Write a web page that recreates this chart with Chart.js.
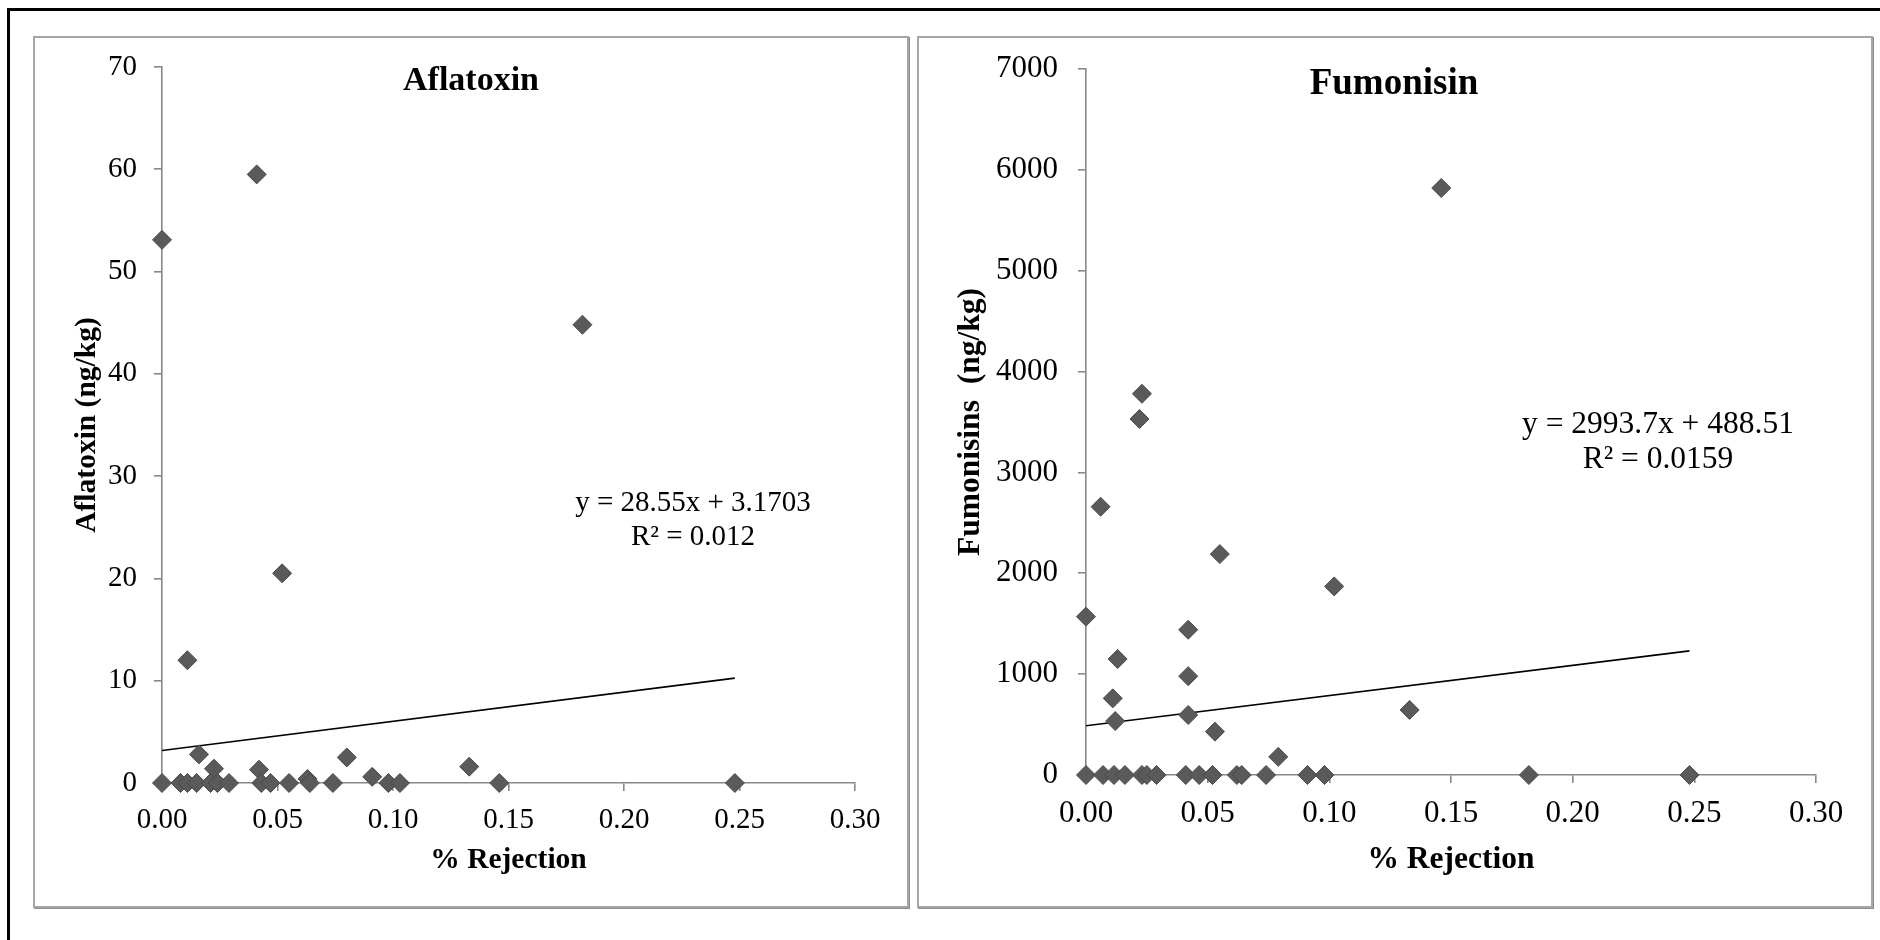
<!DOCTYPE html>
<html lang="en">
<head>
   <meta charset="UTF-8">
   <title>Aflatoxin and Fumonisin vs % Rejection</title>
   <script src="https://cdn.jsdelivr.net/npm/chart.js"></script>
   <style>
      body {
         margin: 0;
         width: 1880px;
         height: 940px;
         background: #fff;
         overflow: hidden;
         position: relative;
         font-family: "Liberation Serif", "Times New Roman", serif;
      }
      .frame {
         position: absolute;
         left: 7px;
         top: 8px;
         width: 1900px;
         height: 960px;
         border: 3px solid #000;
      }
      .panel {
         position: absolute;
         top: 36px;
         height: 872px;
         background: #fff;
         outline: 2px solid #a6a6a6;
         outline-offset: -2px;
         box-shadow: 1px 1px 0 #8c8c8c;
      }
      .panel canvas { position: absolute; left: 0; top: 0; }
      .txt {
         position: absolute;
         transform: translate(-50%, -50%);
         white-space: nowrap;
         color: #000;
         text-align: center;
      }
      .title { font-weight: bold; }
   </style>
</head>
<body>
   <div class="frame"></div>

   <div class="panel" style="left:33px;width:876px">
      <canvas id="aflaChart" width="876" height="872"></canvas>
   </div>
   <div class="panel" style="left:917px;width:956px">
      <canvas id="fumoChart" width="956" height="872"></canvas>
   </div>

   <!-- chart titles and trendline equations -->
   <div class="txt title" style="left:471px;top:79px;font-size:34px">Aflatoxin</div>
   <div class="txt" style="left:693px;top:518px;font-size:29px;line-height:34px">y = 28.55x + 3.1703<br>R² = 0.012</div>

   <div class="txt title" style="left:1394px;top:81px;font-size:37px">Fumonisin</div>
   <div class="txt" style="left:1658px;top:440px;font-size:31.5px;line-height:35px">y = 2993.7x + 488.51<br>R² = 0.0159</div>

   <script>
      // Aflatoxin samples (% rejection, ng/kg)
      const aflaX = [0.000, 0.041, 0.182, 0.052, 0.011, 0.016, 0.0225, 0.042, 0.080, 0.091, 0.133, 0.146, 0.063, 0.248,
                     0.000, 0.008, 0.011, 0.015, 0.021, 0.024, 0.029, 0.043, 0.047, 0.055, 0.064, 0.074, 0.098, 0.103];
      const aflaY = [53.1, 59.5, 44.8, 20.5, 12.0, 2.8, 1.4, 1.3, 2.5, 0.6, 1.6, 0, 0.4, 0,
                     0, 0, 0, 0, 0, 0, 0, 0, 0, 0, 0, 0, 0, 0];

      // Fumonisin samples (% rejection, ng/kg)
      const fumoX = [0.146, 0.023, 0.022, 0.006, 0.055, 0.102, 0.000, 0.042, 0.013, 0.042, 0.011, 0.042, 0.012, 0.053,
                     0.133, 0.079, 0.182, 0.248,
                     0.000, 0.007, 0.0115, 0.016, 0.023, 0.025, 0.029, 0.041, 0.0465, 0.052, 0.062, 0.064, 0.074, 0.091, 0.098];
      const fumoY = [5820, 3780, 3530, 2660, 2190, 1870, 1570, 1440, 1150, 980, 760, 595, 535, 430,
                     645, 180, 0, 0,
                     0, 0, 0, 0, 0, 0, 0, 0, 0, 0, 0, 0, 0, 0, 0];

      // linear trendlines as printed on the chart: [slope, intercept]
      const aflaTrend = [28.55, 3.1703];
      const fumoTrend = [2993.7, 488.51];
      const trendRange = [0, 0.248];

      const xTicks = [0, 0.05, 0.10, 0.15, 0.20, 0.25, 0.30];

      const serif = "'Liberation Serif', 'Times New Roman', serif";
      const axisGray = '#888888';

      function makeChart(id, xs, ys, trend, opts) {
         const canvas = document.getElementById(id);
         const W = canvas.width, H = canvas.height;
         const a = opts.area; // [left, top, right, bottom] of plot area inside canvas
         const points = xs.map((x, i) => ({ x: x, y: ys[i] }));
         const line = trendRange.map(x => ({ x: x, y: trend[0] * x + trend[1] }));

         return new Chart(canvas, {
            type: 'scatter',
            data: {
               datasets: [
                  {
                     data: points,
                     pointStyle: 'rectRot',
                     pointRadius: 9.5,
                     pointHoverRadius: 9.5,
                     backgroundColor: '#5a5a5a',
                     borderColor: '#4a4a4a',
                     borderWidth: 1,
                     clip: false,
                     order: 1
                  },
                  {
                     data: line,
                     showLine: true,
                     borderColor: '#000',
                     borderWidth: 1.6,
                     pointRadius: 0,
                     fill: false,
                     order: 2
                  }
               ]
            },
            options: {
               responsive: false,
               animation: false,
               devicePixelRatio: 1,
               layout: { padding: { left: 0, top: a[1], right: W - a[2], bottom: 0 } },
               plugins: { legend: { display: false }, tooltip: { enabled: false } },
               scales: {
                  x: {
                     type: 'linear',
                     min: 0, max: 0.30,
                     afterBuildTicks: s => { s.ticks = xTicks.map(v => ({ value: v })); },
                     afterFit: s => { s.height = H - a[3]; },
                     border: { display: true, color: axisGray, width: 1.6 },
                     grid: { drawOnChartArea: false, drawTicks: true, tickLength: 8, color: axisGray, lineWidth: 1.6 },
                     ticks: {
                        padding: opts.xTickPad,
                        color: '#000',
                        maxRotation: 0,
                        font: { family: serif, size: opts.tickSize },
                        callback: v => Number(v).toFixed(2)
                     },
                     title: {
                        display: true,
                        text: '% Rejection',
                        color: '#000',
                        font: { family: serif, size: opts.axisTitleSize, weight: 'bold' },
                        padding: { top: 0, bottom: opts.xTitlePad }
                     }
                  },
                  y: {
                     min: 0, max: opts.yMax,
                     ticks: {
                        stepSize: opts.yStep,
                        padding: opts.yTickPad,
                        color: '#000',
                        font: { family: serif, size: opts.tickSize },
                        callback: v => String(v)
                     },
                     // keep the plot area exactly where the panel wants it
                     afterFit: s => { s.width = a[0]; s.paddingTop = 0; s.paddingBottom = 0; },
                     border: { display: true, color: axisGray, width: 1.6 },
                     grid: { drawOnChartArea: false, drawTicks: true, tickLength: 8, color: axisGray, lineWidth: 1.6 },
                     title: {
                        display: true,
                        text: opts.yTitle,
                        color: '#000',
                        font: { family: serif, size: opts.axisTitleSize, weight: 'bold' },
                        padding: { top: opts.yTitlePad, bottom: 0 }
                     }
                  }
               }
            }
         });
      }

      makeChart('aflaChart', aflaX, aflaY, aflaTrend, {
         area: [129, 31, 822, 747],
         yMax: 70, yStep: 10,
         tickSize: 29, axisTitleSize: 29.5,
         xTickPad: 12, yTickPad: 17,
         xTitlePad: 30, yTitlePad: 37,
         yTitle: 'Aflatoxin (ng/kg)'
      });

      makeChart('fumoChart', fumoX, fumoY, fumoTrend, {
         area: [169, 33, 899, 739],
         yMax: 7000, yStep: 1000,
         tickSize: 31, axisTitleSize: 31.5,
         xTickPad: 12, yTickPad: 20,
         xTitlePad: 29, yTitlePad: 35,
         yTitle: 'Fumonisins  (ng/kg)'
      });
   </script>
</body>
</html>
